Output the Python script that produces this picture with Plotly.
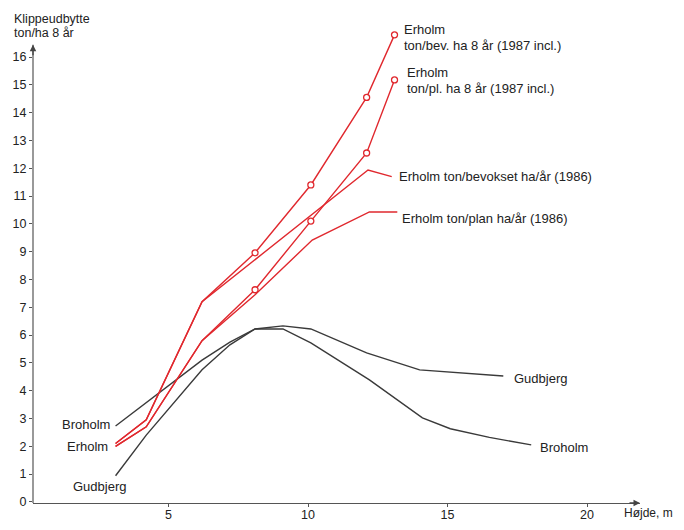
import plotly.graph_objects as go

# ---- data ----
height_erholm_8aar = [3.1, 4.2, 6.2, 8.1, 10.1, 12.1, 13.1]
erholm_bev_8aar = [2.1, 2.95, 7.2, 8.96, 11.4, 14.55, 16.8]
erholm_pl_8aar = [2.0, 2.7, 5.8, 7.63, 10.1, 12.55, 15.18]

height_erholm_bev_1986 = [3.1, 4.2, 6.2, 8.1, 10.1, 12.15, 13.0]
erholm_bev_1986 = [2.1, 2.95, 7.2, 8.72, 10.33, 11.94, 11.7]

height_erholm_plan_1986 = [3.1, 4.2, 6.2, 8.1, 10.15, 12.2, 13.2]
erholm_plan_1986 = [2.0, 2.7, 5.8, 7.45, 9.42, 10.43, 10.43]

height_broholm = [3.1, 6.2, 7.2, 8.1, 9.1, 10.1, 12.2, 14.1, 15.1, 16.5, 18.0]
broholm = [2.73, 5.1, 5.75, 6.22, 6.22, 5.72, 4.39, 3.02, 2.63, 2.32, 2.05]

height_gudbjerg = [3.1, 4.2, 6.2, 7.2, 8.1, 9.1, 10.1, 12.1, 14.0, 17.0]
gudbjerg = [0.94, 2.4, 4.75, 5.65, 6.22, 6.33, 6.22, 5.36, 4.75, 4.53]

x_ticks = [5, 10, 15, 20]
y_ticks = list(range(0, 17))
y_axis_top = 16.44

RED = "#e0282e"
DARK = "#3a3a3a"
AXIS = "#555"
FONT = "Liberation Sans, Arial, sans-serif"

# The page body has an 8px margin, so the figure is sized to fit the
# 684x530 window; OFF converts window pixels to figure pixels.
OFF = 8
W, H = 684 - 2 * OFF, 530 - 2 * OFF
# plot area in window pixels: left 33, right 640, top 20, bottom 503
M_L = 33 - OFF
M_T = 20 - OFF
M_R = W - (640 - OFF)
M_B = H - (503 - OFF)
PW, PH = W - M_L - M_R, H - M_T - M_B

fig = go.Figure()

def add_line(x, y, color, width=1.4):
    fig.add_trace(go.Scatter(x=x, y=y, mode="lines",
                             line=dict(color=color, width=width),
                             hoverinfo="skip", showlegend=False, cliponaxis=False))

def add_circles(x, y):
    fig.add_trace(go.Scatter(x=x, y=y, mode="markers",
                             marker=dict(symbol="circle", size=6, color="white",
                                         line=dict(color=RED, width=1.3)),
                             hoverinfo="skip", showlegend=False, cliponaxis=False))

add_line(height_gudbjerg, gudbjerg, DARK)
add_line(height_broholm, broholm, DARK)
add_line(height_erholm_bev_1986, erholm_bev_1986, RED)
add_line(height_erholm_plan_1986, erholm_plan_1986, RED)
add_line(height_erholm_8aar, erholm_bev_8aar, RED)
add_line(height_erholm_8aar, erholm_pl_8aar, RED)
add_circles(height_erholm_8aar[3:], erholm_bev_8aar[3:])
add_circles(height_erholm_8aar[3:], erholm_pl_8aar[3:])

# window pixel -> paper helpers for text placement
def px_x(vx):
    return (vx - OFF - M_L) / PW

def px_y(vy):
    return (H - M_B - (vy - OFF)) / PH

texts = [
    ("Klippeudbytte", 12, 19, "left", 12.5),
    ("ton/ha 8 år", 12, 33, "left", 12.5),
    ("Erholm", 402, 30, "left", 13),
    ("ton/bev. ha 8 år (1987 incl.)", 402, 45, "left", 13),
    ("Erholm", 405, 72, "left", 13),
    ("ton/pl. ha 8 år (1987 incl.)", 405, 88, "left", 13),
    ("Erholm ton/bevokset ha/år (1986)", 397, 176, "left", 13),
    ("Erholm ton/plan ha/år (1986)", 400, 218, "left", 13),
    ("Gudbjerg", 512, 378, "left", 13),
    ("Broholm", 538, 447, "left", 13),
    ("Broholm", 112, 424, "right", 13),
    ("Erholm", 110, 446, "right", 13),
    ("Gudbjerg", 71, 486, "left", 13),
    ("Højde, m", 675, 513, "right", 12),
]
annotations = []
for t, vx, vy, anchor, fs in texts:
    annotations.append(dict(text=t, x=px_x(vx), y=px_y(vy), xref="paper", yref="paper",
                            xanchor=anchor, yanchor="middle", showarrow=False,
                            font=dict(family=FONT, size=fs, color="#222")))

# axis arrowheads
annotations.append(dict(x=0, y=y_axis_top, xref="paper", yref="y", ax=0, ay=12,
                        axref="pixel", ayref="pixel", text="", showarrow=True,
                        arrowhead=2, arrowsize=1, arrowwidth=1.3, arrowcolor="#444"))
annotations.append(dict(x=1, y=0, xref="paper", yref="paper", ax=-12, ay=0,
                        axref="pixel", ayref="pixel", text="", showarrow=True,
                        arrowhead=2, arrowsize=1, arrowwidth=1.3, arrowcolor="#444"))

shapes = [dict(type="line", xref="paper", yref="y", x0=0, x1=0,
               y0=-0.04, y1=y_axis_top, line=dict(color=AXIS, width=1.2))]

fig.update_layout(
    width=W, height=H,
    margin=dict(l=M_L, r=M_R, t=M_T, b=M_B, autoexpand=False),
    paper_bgcolor="white", plot_bgcolor="white",
    font=dict(family=FONT, size=12.5, color="#222"),
    xaxis=dict(range=[0.14, 21.9], tickvals=x_ticks, showgrid=False, zeroline=False,
               showline=True, linecolor=AXIS, linewidth=1.2, automargin=False,
               ticks="outside", ticklen=3, tickcolor=AXIS,
               ticklabelstandoff=-3),
    yaxis=dict(range=[-0.04, PH / 27.8 - 0.04], tickvals=y_ticks,
               showgrid=False, zeroline=False, showline=False, automargin=False,
               ticks="outside", ticklen=3, tickcolor=AXIS),
    annotations=annotations,
    shapes=shapes,
    showlegend=False,
)

fig.write_html("out.html")
